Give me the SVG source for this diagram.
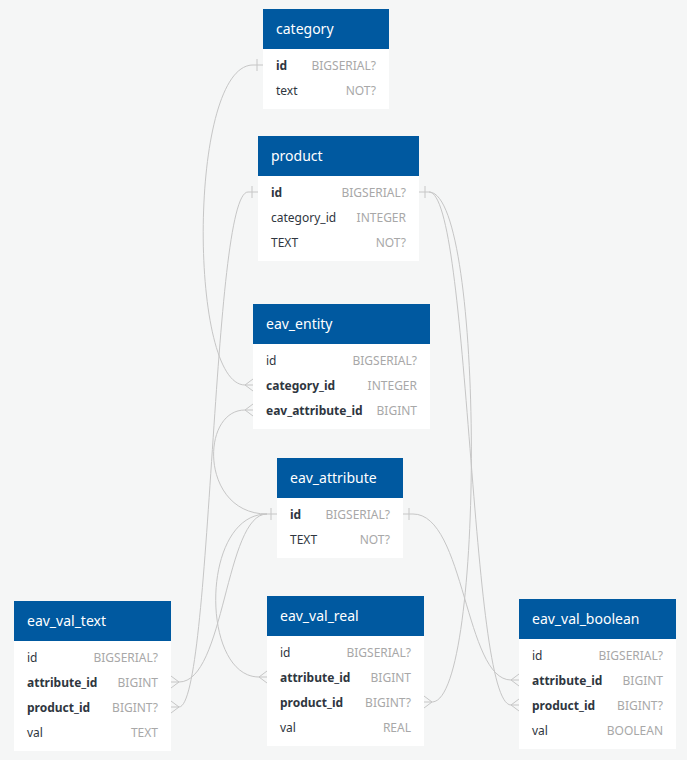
<svg xmlns="http://www.w3.org/2000/svg" width="687" height="760" viewBox="0 0 687 760">
<style>
.bg{fill:#f5f6f6}
.hdr{fill:#0059a0}
.body{fill:#ffffff}
.title{font-family:"Noto Sans","Open Sans",sans-serif;font-size:14px;fill:#ffffff}
.f{font-family:"Noto Sans","Open Sans",sans-serif;font-size:12px;fill:#2f3640}
.k{font-weight:bold}
.t{font-family:"Noto Sans","Open Sans",sans-serif;font-size:12px;fill:#a8a8a8;text-anchor:end}
.c{fill:none;stroke:#c6c6c6;stroke-width:1}
</style>
<rect class="bg" x="0" y="0" width="687" height="760"/>
<g id="connectors">
<path class="c" d="M263,65 H253 C188,65 188,385 245,385 H253"/>
<path class="c" d="M257,59 V71"/>
<path class="c" d="M253,379 L245,385 L253,391"/>
<path class="c" d="M258,192 H248 C212,192 212,707 179,707 H171"/>
<path class="c" d="M252,186 V198"/>
<path class="c" d="M171,701 L179,707 L171,713"/>
<path class="c" d="M277,514 H267 C200,514 200,410 245,410 H253"/>
<path class="c" d="M271,508 V520"/>
<path class="c" d="M253,404 L245,410 L253,416"/>
<path class="c" d="M267,514 C225,514 225,682 179,682 H171"/>
<path class="c" d="M171,676 L179,682 L171,688"/>
<path class="c" d="M267,514 C200,514 200,677 259,677 H267"/>
<path class="c" d="M267,671 L259,677 L267,683"/>
<path class="c" d="M419,192 H429 C485,192 485,702 432,702 H424"/>
<path class="c" d="M425,186 V198"/>
<path class="c" d="M424,696 L432,702 L424,708"/>
<path class="c" d="M429,192 C470,192 470,705 511,705 H519"/>
<path class="c" d="M519,699 L511,705 L519,711"/>
<path class="c" d="M403,514 H413 C465,514 465,680 511,680 H519"/>
<path class="c" d="M409,508 V520"/>
<path class="c" d="M519,674 L511,680 L519,686"/>
</g>
<g id="category">
<rect class="body" x="263" y="9" width="126" height="100"/>
<rect class="hdr" x="263" y="9" width="126" height="40"/>
<text class="title" x="276" y="34">category</text>
<text class="f k" x="276" y="69.5">id</text><text class="t" x="376" y="69.5">BIGSERIAL?</text>
<text class="f" x="276" y="94.5">text</text><text class="t" x="376" y="94.5">NOT?</text>
</g>
<g id="product">
<rect class="body" x="258" y="136" width="161" height="125"/>
<rect class="hdr" x="258" y="136" width="161" height="40"/>
<text class="title" x="271" y="161">product</text>
<text class="f k" x="271" y="196.5">id</text><text class="t" x="406" y="196.5">BIGSERIAL?</text>
<text class="f" x="271" y="221.5">category_id</text><text class="t" x="406" y="221.5">INTEGER</text>
<text class="f" x="271" y="246.5">TEXT</text><text class="t" x="406" y="246.5">NOT?</text>
</g>
<g id="eav_entity">
<rect class="body" x="253" y="304" width="177" height="125"/>
<rect class="hdr" x="253" y="304" width="177" height="40"/>
<text class="title" x="266" y="329">eav_entity</text>
<text class="f" x="266" y="364.5">id</text><text class="t" x="417" y="364.5">BIGSERIAL?</text>
<text class="f k" x="266" y="389.5">category_id</text><text class="t" x="417" y="389.5">INTEGER</text>
<text class="f k" x="266" y="414.5">eav_attribute_id</text><text class="t" x="417" y="414.5">BIGINT</text>
</g>
<g id="eav_attribute">
<rect class="body" x="277" y="458" width="126" height="100"/>
<rect class="hdr" x="277" y="458" width="126" height="40"/>
<text class="title" x="290" y="483">eav_attribute</text>
<text class="f k" x="290" y="518.5">id</text><text class="t" x="390" y="518.5">BIGSERIAL?</text>
<text class="f" x="290" y="543.5">TEXT</text><text class="t" x="390" y="543.5">NOT?</text>
</g>
<g id="eav_val_text">
<rect class="body" x="14" y="601" width="157" height="150"/>
<rect class="hdr" x="14" y="601" width="157" height="40"/>
<text class="title" x="27" y="626">eav_val_text</text>
<text class="f" x="27" y="661.5">id</text><text class="t" x="158" y="661.5">BIGSERIAL?</text>
<text class="f k" x="27" y="686.5">attribute_id</text><text class="t" x="158" y="686.5">BIGINT</text>
<text class="f k" x="27" y="711.5">product_id</text><text class="t" x="158" y="711.5">BIGINT?</text>
<text class="f" x="27" y="736.5">val</text><text class="t" x="158" y="736.5">TEXT</text>
</g>
<g id="eav_val_real">
<rect class="body" x="267" y="596" width="157" height="150"/>
<rect class="hdr" x="267" y="596" width="157" height="40"/>
<text class="title" x="280" y="621">eav_val_real</text>
<text class="f" x="280" y="656.5">id</text><text class="t" x="411" y="656.5">BIGSERIAL?</text>
<text class="f k" x="280" y="681.5">attribute_id</text><text class="t" x="411" y="681.5">BIGINT</text>
<text class="f k" x="280" y="706.5">product_id</text><text class="t" x="411" y="706.5">BIGINT?</text>
<text class="f" x="280" y="731.5">val</text><text class="t" x="411" y="731.5">REAL</text>
</g>
<g id="eav_val_boolean">
<rect class="body" x="519" y="599" width="157" height="150"/>
<rect class="hdr" x="519" y="599" width="157" height="40"/>
<text class="title" x="532" y="624">eav_val_boolean</text>
<text class="f" x="532" y="659.5">id</text><text class="t" x="663" y="659.5">BIGSERIAL?</text>
<text class="f k" x="532" y="684.5">attribute_id</text><text class="t" x="663" y="684.5">BIGINT</text>
<text class="f k" x="532" y="709.5">product_id</text><text class="t" x="663" y="709.5">BIGINT?</text>
<text class="f" x="532" y="734.5">val</text><text class="t" x="663" y="734.5">BOOLEAN</text>
</g>
</svg>
